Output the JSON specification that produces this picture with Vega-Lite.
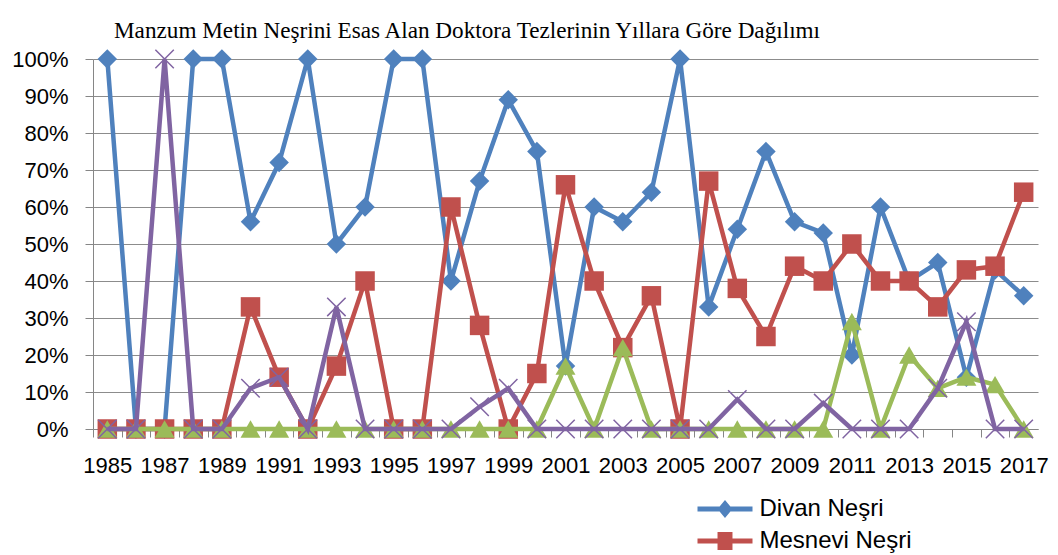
{
  "$schema": "https://vega.github.io/schema/vega-lite/v6.json",
  "width": 945,
  "height": 370,
  "autosize": {"type": "none"},
  "padding": {"left": 93, "top": 59, "right": 20, "bottom": 126},
  "background": "white",
  "title": {
    "text": "Manzum Metin Neşrini Esas Alan Doktora Tezlerinin Yıllara Göre Dağılımı",
    "font": "Liberation Serif",
    "fontSize": 23.2,
    "fontWeight": "normal",
    "color": "#000000",
    "anchor": "start",
    "frame": "group",
    "dx": 21,
    "offset": 4
  },
  "config": {
    "view": {"stroke": null},
    "axis": {
      "labelFont": "Liberation Sans",
      "labelFontSize": 22,
      "labelColor": "#000000",
      "domainColor": "#868686",
      "tickColor": "#868686",
      "tickSize": 8,
      "title": null
    }
  },
  "data": {
    "values": [
      {"year": 1985, "series": "Divan Neşri", "value": 1.00},
      {"year": 1986, "series": "Divan Neşri", "value": 0.00},
      {"year": 1987, "series": "Divan Neşri", "value": 0.00},
      {"year": 1988, "series": "Divan Neşri", "value": 1.00},
      {"year": 1989, "series": "Divan Neşri", "value": 1.00},
      {"year": 1990, "series": "Divan Neşri", "value": 0.56},
      {"year": 1991, "series": "Divan Neşri", "value": 0.72},
      {"year": 1992, "series": "Divan Neşri", "value": 1.00},
      {"year": 1993, "series": "Divan Neşri", "value": 0.50},
      {"year": 1994, "series": "Divan Neşri", "value": 0.60},
      {"year": 1995, "series": "Divan Neşri", "value": 1.00},
      {"year": 1996, "series": "Divan Neşri", "value": 1.00},
      {"year": 1997, "series": "Divan Neşri", "value": 0.40},
      {"year": 1998, "series": "Divan Neşri", "value": 0.67},
      {"year": 1999, "series": "Divan Neşri", "value": 0.89},
      {"year": 2000, "series": "Divan Neşri", "value": 0.75},
      {"year": 2001, "series": "Divan Neşri", "value": 0.17},
      {"year": 2002, "series": "Divan Neşri", "value": 0.60},
      {"year": 2003, "series": "Divan Neşri", "value": 0.56},
      {"year": 2004, "series": "Divan Neşri", "value": 0.64},
      {"year": 2005, "series": "Divan Neşri", "value": 1.00},
      {"year": 2006, "series": "Divan Neşri", "value": 0.33},
      {"year": 2007, "series": "Divan Neşri", "value": 0.54},
      {"year": 2008, "series": "Divan Neşri", "value": 0.75},
      {"year": 2009, "series": "Divan Neşri", "value": 0.56},
      {"year": 2010, "series": "Divan Neşri", "value": 0.53},
      {"year": 2011, "series": "Divan Neşri", "value": 0.20},
      {"year": 2012, "series": "Divan Neşri", "value": 0.60},
      {"year": 2013, "series": "Divan Neşri", "value": 0.40},
      {"year": 2014, "series": "Divan Neşri", "value": 0.45},
      {"year": 2015, "series": "Divan Neşri", "value": 0.14},
      {"year": 2016, "series": "Divan Neşri", "value": 0.43},
      {"year": 2017, "series": "Divan Neşri", "value": 0.36},
      {"year": 1985, "series": "Mesnevi Neşri", "value": 0.00},
      {"year": 1986, "series": "Mesnevi Neşri", "value": 0.00},
      {"year": 1987, "series": "Mesnevi Neşri", "value": 0.00},
      {"year": 1988, "series": "Mesnevi Neşri", "value": 0.00},
      {"year": 1989, "series": "Mesnevi Neşri", "value": 0.00},
      {"year": 1990, "series": "Mesnevi Neşri", "value": 0.33},
      {"year": 1991, "series": "Mesnevi Neşri", "value": 0.14},
      {"year": 1992, "series": "Mesnevi Neşri", "value": 0.00},
      {"year": 1993, "series": "Mesnevi Neşri", "value": 0.17},
      {"year": 1994, "series": "Mesnevi Neşri", "value": 0.40},
      {"year": 1995, "series": "Mesnevi Neşri", "value": 0.00},
      {"year": 1996, "series": "Mesnevi Neşri", "value": 0.00},
      {"year": 1997, "series": "Mesnevi Neşri", "value": 0.60},
      {"year": 1998, "series": "Mesnevi Neşri", "value": 0.28},
      {"year": 1999, "series": "Mesnevi Neşri", "value": 0.00},
      {"year": 2000, "series": "Mesnevi Neşri", "value": 0.15},
      {"year": 2001, "series": "Mesnevi Neşri", "value": 0.66},
      {"year": 2002, "series": "Mesnevi Neşri", "value": 0.40},
      {"year": 2003, "series": "Mesnevi Neşri", "value": 0.22},
      {"year": 2004, "series": "Mesnevi Neşri", "value": 0.36},
      {"year": 2005, "series": "Mesnevi Neşri", "value": 0.00},
      {"year": 2006, "series": "Mesnevi Neşri", "value": 0.67},
      {"year": 2007, "series": "Mesnevi Neşri", "value": 0.38},
      {"year": 2008, "series": "Mesnevi Neşri", "value": 0.25},
      {"year": 2009, "series": "Mesnevi Neşri", "value": 0.44},
      {"year": 2010, "series": "Mesnevi Neşri", "value": 0.40},
      {"year": 2011, "series": "Mesnevi Neşri", "value": 0.50},
      {"year": 2012, "series": "Mesnevi Neşri", "value": 0.40},
      {"year": 2013, "series": "Mesnevi Neşri", "value": 0.40},
      {"year": 2014, "series": "Mesnevi Neşri", "value": 0.33},
      {"year": 2015, "series": "Mesnevi Neşri", "value": 0.43},
      {"year": 2016, "series": "Mesnevi Neşri", "value": 0.44},
      {"year": 2017, "series": "Mesnevi Neşri", "value": 0.64},
      {"year": 1985, "series": "Mecmua Neşri", "value": 0.00},
      {"year": 1986, "series": "Mecmua Neşri", "value": 0.00},
      {"year": 1987, "series": "Mecmua Neşri", "value": 0.00},
      {"year": 1988, "series": "Mecmua Neşri", "value": 0.00},
      {"year": 1989, "series": "Mecmua Neşri", "value": 0.00},
      {"year": 1990, "series": "Mecmua Neşri", "value": 0.00},
      {"year": 1991, "series": "Mecmua Neşri", "value": 0.00},
      {"year": 1992, "series": "Mecmua Neşri", "value": 0.00},
      {"year": 1993, "series": "Mecmua Neşri", "value": 0.00},
      {"year": 1994, "series": "Mecmua Neşri", "value": 0.00},
      {"year": 1995, "series": "Mecmua Neşri", "value": 0.00},
      {"year": 1996, "series": "Mecmua Neşri", "value": 0.00},
      {"year": 1997, "series": "Mecmua Neşri", "value": 0.00},
      {"year": 1998, "series": "Mecmua Neşri", "value": 0.00},
      {"year": 1999, "series": "Mecmua Neşri", "value": 0.00},
      {"year": 2000, "series": "Mecmua Neşri", "value": 0.00},
      {"year": 2001, "series": "Mecmua Neşri", "value": 0.17},
      {"year": 2002, "series": "Mecmua Neşri", "value": 0.00},
      {"year": 2003, "series": "Mecmua Neşri", "value": 0.22},
      {"year": 2004, "series": "Mecmua Neşri", "value": 0.00},
      {"year": 2005, "series": "Mecmua Neşri", "value": 0.00},
      {"year": 2006, "series": "Mecmua Neşri", "value": 0.00},
      {"year": 2007, "series": "Mecmua Neşri", "value": 0.00},
      {"year": 2008, "series": "Mecmua Neşri", "value": 0.00},
      {"year": 2009, "series": "Mecmua Neşri", "value": 0.00},
      {"year": 2010, "series": "Mecmua Neşri", "value": 0.00},
      {"year": 2011, "series": "Mecmua Neşri", "value": 0.29},
      {"year": 2012, "series": "Mecmua Neşri", "value": 0.00},
      {"year": 2013, "series": "Mecmua Neşri", "value": 0.20},
      {"year": 2014, "series": "Mecmua Neşri", "value": 0.11},
      {"year": 2015, "series": "Mecmua Neşri", "value": 0.14},
      {"year": 2016, "series": "Mecmua Neşri", "value": 0.12},
      {"year": 2017, "series": "Mecmua Neşri", "value": 0.00},
      {"year": 1985, "series": "Diğer", "value": 0.00},
      {"year": 1986, "series": "Diğer", "value": 0.00},
      {"year": 1987, "series": "Diğer", "value": 1.00},
      {"year": 1988, "series": "Diğer", "value": 0.00},
      {"year": 1989, "series": "Diğer", "value": 0.00},
      {"year": 1990, "series": "Diğer", "value": 0.11},
      {"year": 1991, "series": "Diğer", "value": 0.14},
      {"year": 1992, "series": "Diğer", "value": 0.00},
      {"year": 1993, "series": "Diğer", "value": 0.33},
      {"year": 1994, "series": "Diğer", "value": 0.00},
      {"year": 1995, "series": "Diğer", "value": 0.00},
      {"year": 1996, "series": "Diğer", "value": 0.00},
      {"year": 1997, "series": "Diğer", "value": 0.00},
      {"year": 1998, "series": "Diğer", "value": 0.06},
      {"year": 1999, "series": "Diğer", "value": 0.11},
      {"year": 2000, "series": "Diğer", "value": 0.00},
      {"year": 2001, "series": "Diğer", "value": 0.00},
      {"year": 2002, "series": "Diğer", "value": 0.00},
      {"year": 2003, "series": "Diğer", "value": 0.00},
      {"year": 2004, "series": "Diğer", "value": 0.00},
      {"year": 2005, "series": "Diğer", "value": 0.00},
      {"year": 2006, "series": "Diğer", "value": 0.00},
      {"year": 2007, "series": "Diğer", "value": 0.08},
      {"year": 2008, "series": "Diğer", "value": 0.00},
      {"year": 2009, "series": "Diğer", "value": 0.00},
      {"year": 2010, "series": "Diğer", "value": 0.07},
      {"year": 2011, "series": "Diğer", "value": 0.00},
      {"year": 2012, "series": "Diğer", "value": 0.00},
      {"year": 2013, "series": "Diğer", "value": 0.00},
      {"year": 2014, "series": "Diğer", "value": 0.11},
      {"year": 2015, "series": "Diğer", "value": 0.29},
      {"year": 2016, "series": "Diğer", "value": 0.00},
      {"year": 2017, "series": "Diğer", "value": 0.00}
    ]
  },
  "encoding": {
    "x": {
      "field": "year",
      "type": "ordinal",
      "scale": {"type": "point", "padding": 0.5},
      "axis": {
        "labelAngle": 0,
        "labelOverlap": false,
        "labelPadding": 18,
        "tickOffset": -14.32,
        "labelOffset": 14.32,
        "labelExpr": "datum.value % 2 == 1 ? datum.label : ''",
        "grid": false
      }
    },
    "y": {
      "field": "value",
      "type": "quantitative",
      "scale": {"domain": [0, 1], "nice": false},
      "axis": {
        "values": [0, 0.1, 0.2, 0.3, 0.4, 0.5, 0.6, 0.7, 0.8, 0.9, 1],
        "format": ".0%",
        "labelPadding": 17,
        "grid": true,
        "gridColor": "#8c8c8c",
        "gridWidth": 1.2
      }
    }
  },
  "layer": [
    {
      "transform": [{"filter": {"field": "series", "equal": "Divan Neşri"}}],
      "mark": {"type": "line", "color": "#4F81BD", "strokeWidth": 4.5},
      "encoding": {}
    },
    {
      "transform": [{"filter": {"field": "series", "equal": "Divan Neşri"}}],
      "mark": {"type": "point", "shape": "diamond", "filled": true, "color": "#4F81BD", "size": 380, "opacity": 1},
      "encoding": {}
    },
    {
      "transform": [{"filter": {"field": "series", "equal": "Mesnevi Neşri"}}],
      "mark": {"type": "line", "color": "#C0504D", "strokeWidth": 4.5},
      "encoding": {}
    },
    {
      "transform": [{"filter": {"field": "series", "equal": "Mesnevi Neşri"}}],
      "mark": {"type": "point", "shape": "square", "filled": true, "color": "#C0504D", "size": 380, "opacity": 1},
      "encoding": {}
    },
    {
      "transform": [{"filter": {"field": "series", "equal": "Mecmua Neşri"}}],
      "mark": {"type": "line", "color": "#9BBB59", "strokeWidth": 4.5},
      "encoding": {}
    },
    {
      "transform": [{"filter": {"field": "series", "equal": "Mecmua Neşri"}}],
      "mark": {"type": "point", "shape": "triangle-up", "filled": true, "color": "#9BBB59", "size": 400, "opacity": 1},
      "encoding": {}
    },
    {
      "transform": [{"filter": {"field": "series", "equal": "Diğer"}}],
      "mark": {"type": "line", "color": "#8064A2", "strokeWidth": 4.5},
      "encoding": {}
    },
    {
      "transform": [{"filter": {"field": "series", "equal": "Diğer"}}],
      "mark": {"type": "point", "shape": "M-1,-1L1,1M-1,1L1,-1", "filled": false, "color": "#8064A2", "size": 340, "strokeWidth": 1.5, "opacity": 1},
      "encoding": {}
    },
    {
      "transform": [{"filter": "false"}],
      "mark": {"type": "point", "filled": true, "opacity": 1, "size": 484},
      "encoding": {
        "color": {
          "field": "series",
          "type": "nominal",
          "scale": {"domain": ["Divan Neşri", "Mesnevi Neşri"], "range": ["#4F81BD", "#C0504D"]},
          "legend": {
            "title": null,
            "orient": "none",
            "legendX": 620,
            "legendY": 438,
            "padding": 0,
            "symbolSize": 484,
            "symbolStrokeWidth": 0,
            "labelOffset": 22.5,
            "labelFont": "Liberation Sans",
            "labelFontSize": 24,
            "labelColor": "#000000",
            "rowPadding": 8
          }
        },
        "shape": {
          "field": "series",
          "type": "nominal",
          "scale": {
            "domain": ["Divan Neşri", "Mesnevi Neşri"],
            "range": [
              "M-2.5,-0.23H2.5V0.23H-2.5Z M0,-0.82L0.68,0L0,0.82L-0.68,0Z",
              "M-2.5,-0.23H2.5V0.23H-2.5Z M-0.68,-0.82H0.68V0.82H-0.68Z"
            ]
          },
          "legend": {
            "title": null,
            "orient": "none",
            "legendX": 620,
            "legendY": 438,
            "padding": 0,
            "symbolSize": 484,
            "symbolStrokeWidth": 0,
            "labelOffset": 22.5,
            "labelFont": "Liberation Sans",
            "labelFontSize": 24,
            "labelColor": "#000000",
            "rowPadding": 8
          }
        }
      }
    }
  ]
}
